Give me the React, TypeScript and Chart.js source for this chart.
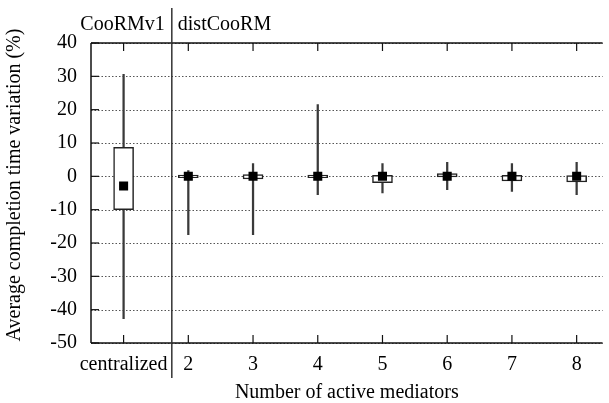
import { useEffect, useRef } from 'react';
import { Chart, registerables } from 'chart.js';
Chart.register(...registerables);

const categories = ['centralized', '2', '3', '4', '5', '6', '7', '8'];
const positions = [1, 2, 3, 4, 5, 6, 7, 8];
const whiskerMin = [-42.7, -17.5, -17.5, -5.5, -5, -4, -4.5, -5.5];
const whiskerMax = [30.6, 1.7, 3.8, 21.5, 3.8, 4.2, 3.8, 4.2];
const boxLow = [-10, -0.4, -0.8, -0.4, -1.9, -0.2, -1.4, -1.7];
const boxHigh = [8.7, 0.4, 0.5, 0.4, 0.3, 0.8, 0.3, 0.2];
const means = [-2.9, 0, 0, 0, 0, 0, 0, 0];
const yTicks = [-50, -40, -30, -20, -10, 0, 10, 20, 30, 40];
const groupLabels = ['CooRMv1', 'distCooRM'];
const separatorAt = 1.745;
const yTitle = 'Average completion time variation (%)';
const xTitle = 'Number of active mediators';

const FONT = 'Liberation Serif';
const FS = 20;

const framePlugin = {
  id: 'framePlugin',
  beforeDatasetsDraw(chart: any) {
    const { ctx, chartArea: a, scales } = chart;
    const y = scales.y;
    ctx.save();
    ctx.strokeStyle = '#555';
    ctx.lineWidth = 1;
    ctx.setLineDash([1.5, 2]);
    yTicks.forEach((v) => {
      const py = Math.round(y.getPixelForValue(v)) + 0.5;
      ctx.beginPath();
      ctx.moveTo(a.left, py);
      ctx.lineTo(a.right, py);
      ctx.stroke();
    });
    ctx.restore();
  },
  afterDatasetsDraw(chart: any) {
    const { ctx, chartArea: a, scales } = chart;
    const x = scales.x;
    const y = scales.y;
    const line = (x1: number, y1: number, x2: number, y2: number) => {
      ctx.beginPath();
      ctx.moveTo(x1, y1);
      ctx.lineTo(x2, y2);
      ctx.stroke();
    };
    ctx.save();
    ctx.strokeStyle = '#111';
    ctx.lineWidth = 1.5;
    line(a.left, a.top, a.right, a.top);
    line(a.left, a.bottom, a.right, a.bottom);
    line(a.left, a.top, a.left, a.bottom);
    ctx.lineWidth = 1.2;
    positions.forEach((p) => {
      const px = x.getPixelForValue(p);
      line(px, a.bottom, px, a.bottom - 8);
      line(px, a.top, px, a.top + 8);
    });
    yTicks.forEach((v) => {
      const py = y.getPixelForValue(v);
      line(a.left, py, a.left + 8, py);
    });
    const sx = x.getPixelForValue(separatorAt);
    ctx.lineWidth = 1.5;
    ctx.strokeStyle = '#333';
    line(sx, 8, sx, 378);
    ctx.font = `${FS}px "${FONT}"`;
    ctx.fillStyle = '#000';
    ctx.textBaseline = 'alphabetic';
    ctx.textAlign = 'right';
    ctx.fillText(groupLabels[0], sx - 7, 30);
    ctx.textAlign = 'left';
    ctx.fillText(groupLabels[1], sx + 6, 30);
    // y axis title
    ctx.translate(15, 185);
    ctx.rotate(-Math.PI / 2);
    ctx.textAlign = 'center';
    ctx.textBaseline = 'middle';
    ctx.fillText(yTitle, 0, 0);
    ctx.restore();
  },
};

export default function App() {
  const ref = useRef<HTMLCanvasElement>(null);
  useEffect(() => {
    if (!ref.current) return;
    const chart = new Chart(ref.current, {
      type: 'bar',
      data: {
        datasets: [
          {
            type: 'bar',
            data: positions.map((p, i) => ({ x: p, y: [whiskerMin[i], whiskerMax[i]] })) as any,
            backgroundColor: '#3a3a3a',
            borderWidth: 0,
            barThickness: 1.6,
            grouped: false,
            order: 3,
          } as any,
          {
            type: 'bar',
            data: positions.map((p, i) => ({ x: p, y: [boxLow[i], boxHigh[i]] })) as any,
            backgroundColor: '#fff',
            borderColor: '#222',
            borderWidth: 1.5,
            borderSkipped: false,
            barThickness: 20,
            grouped: false,
            order: 2,
          } as any,
          {
            type: 'scatter',
            data: positions.map((p, i) => ({ x: p, y: means[i] })),
            pointStyle: 'rect',
            pointRadius: 6.4,
            backgroundColor: '#000',
            borderWidth: 0,
            order: 1,
          } as any,
        ],
      },
      options: {
        animation: false,
        responsive: false,
        layout: { padding: { top: 43, right: 0, left: 0, bottom: 0 } },
        plugins: { legend: { display: false }, tooltip: { enabled: false } },
        scales: {
          x: {
            type: 'linear',
            min: 0.4964,
            max: 8.401,
            offset: false,
            grid: { display: false, offset: false },
            border: { display: false },
            afterBuildTicks: (s: any) => {
              s.ticks = positions.map((v) => ({ value: v }));
            },
            afterFit: (s: any) => {
              s.height = 60;
            },
            ticks: {
              autoSkip: false,
              maxRotation: 0,
              minRotation: 0,
              padding: 2,
              color: '#000',
              font: { family: FONT, size: FS },
              callback: (v: any) => {
                const i = positions.indexOf(Number(v));
                return i >= 0 ? categories[i] : '';
              },
            },
            title: {
              display: true,
              text: xTitle,
              color: '#000',
              font: { family: FONT, size: FS, lineHeight: 1 },
              padding: { top: 0, bottom: 0 },
            },
          },
          y: {
            type: 'linear',
            min: -50,
            max: 40,
            grid: { display: false, drawTicks: false },
            border: { display: false },
            afterFit: (s: any) => {
              s.width = 91;
            },
            ticks: {
              stepSize: 10,
              padding: 14,
              color: '#000',
              font: { family: FONT, size: FS },
            },
            title: { display: false },
          },
        },
      } as any,
      plugins: [framePlugin],
    });
    return () => chart.destroy();
  }, []);
  return (
    <div style={{ position: 'fixed', left: 0, top: 0, width: 609, height: 403, background: '#fff' }}>
      <canvas ref={ref} width={609} height={403} style={{ width: 609, height: 403 }} />
    </div>
  );
}
